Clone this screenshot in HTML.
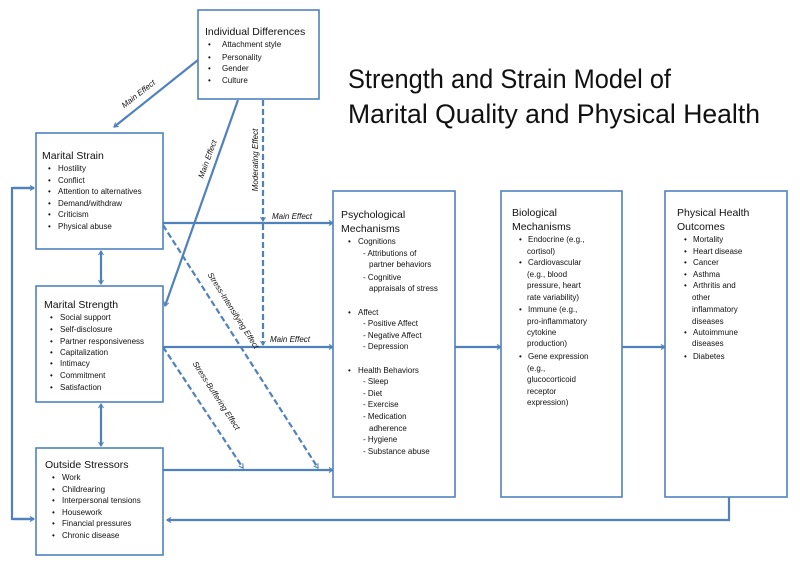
<!DOCTYPE html>
<html><head><meta charset="utf-8"><style>
html,body{margin:0;padding:0;background:#fff;}
svg{display:block;font-family:"Liberation Sans",sans-serif;}
.h{font-size:10.5px;fill:#111;}
.t{font-size:8px;fill:#111;}
.l{font-size:8px;fill:#111;font-style:italic;}
.box{fill:#fff;stroke:#4f81bd;stroke-width:1.6;}
.ln{stroke:#4f81bd;stroke-width:2.2;fill:none;}
.ds{stroke:#4f81bd;stroke-width:2.2;fill:none;stroke-dasharray:6,3;}
</style></head><body>
<svg width="800" height="569" viewBox="0 0 800 569">
<defs>
<marker id="a" viewBox="0 0 10 10" refX="9" refY="5" markerWidth="5" markerHeight="5" orient="auto-start-reverse" markerUnits="userSpaceOnUse" style="overflow:visible">
<path d="M1,0 L9,5 L1,10" fill="none" stroke="#4f81bd" stroke-width="2.2"/>
</marker>
</defs>
<rect width="800" height="569" fill="#fff"/>

<!-- title -->
<text x="348" y="88" font-size="26.5" fill="#111" textLength="323" lengthAdjust="spacingAndGlyphs">Strength and Strain Model of</text>
<text x="348" y="123" font-size="26.5" fill="#111" textLength="412" lengthAdjust="spacingAndGlyphs">Marital Quality and Physical Health</text>

<!-- connectors -->
<line class="ln" x1="198" y1="60" x2="114" y2="127" marker-end="url(#a)"/>
<line class="ln" x1="238" y1="100" x2="165" y2="306" marker-end="url(#a)"/>
<line class="ds" x1="263" y1="100" x2="263" y2="221" marker-end="url(#a)"/>
<line class="ds" x1="263" y1="224" x2="263" y2="345" marker-end="url(#a)"/>
<line class="ln" x1="163" y1="223" x2="333" y2="223" marker-end="url(#a)"/>
<line class="ln" x1="163" y1="347" x2="333" y2="347" marker-end="url(#a)"/>
<line class="ln" x1="163" y1="470" x2="333" y2="470" marker-end="url(#a)"/>
<line class="ds" x1="163" y1="225" x2="318" y2="468" marker-end="url(#a)"/>
<line class="ds" x1="163" y1="347" x2="243" y2="468" marker-end="url(#a)"/>
<line class="ln" x1="101" y1="251" x2="101" y2="284" marker-start="url(#a)" marker-end="url(#a)"/>
<line class="ln" x1="101" y1="404" x2="101" y2="446" marker-start="url(#a)" marker-end="url(#a)"/>
<polyline class="ln" points="34,188 12,188 12,519 34,519"/>
<line class="ln" x1="14" y1="188" x2="34" y2="188" marker-end="url(#a)"/>
<line class="ln" x1="14" y1="519" x2="34" y2="519" marker-end="url(#a)"/>
<polyline class="ln" points="729,497 729,520 167,520" marker-end="url(#a)"/>
<line class="ln" x1="455" y1="347" x2="501" y2="347" marker-end="url(#a)"/>
<line class="ln" x1="622" y1="347" x2="665" y2="347" marker-end="url(#a)"/>

<!-- connector labels -->
<text class="l" transform="translate(140,96) rotate(-38)" text-anchor="middle">Main Effect</text>
<text class="l" transform="translate(210,160) rotate(-70)" text-anchor="middle">Main Effect</text>
<text class="l" transform="translate(258,160) rotate(-90)" text-anchor="middle">Moderating Effect</text>
<text class="l" x="272" y="219">Main Effect</text>
<text class="l" x="270" y="342">Main Effect</text>
<text class="l" transform="translate(231,312) rotate(57.7)" text-anchor="middle">Stress-Intensifying Effect</text>
<text class="l" transform="translate(214,397) rotate(57)" text-anchor="middle">Stress-Buffering Effect</text>

<!-- boxes -->
<rect class="box" x="198" y="10" width="121" height="89"/>
<rect class="box" x="36" y="133" width="127" height="116"/>
<rect class="box" x="36" y="286" width="127" height="116"/>
<rect class="box" x="36" y="448" width="127" height="107"/>
<rect class="box" x="333" y="191" width="122" height="306"/>
<rect class="box" x="501" y="191" width="121" height="306"/>
<rect class="box" x="665" y="191" width="122" height="306"/>

<!-- Individual Differences -->
<text class="h" x="205" y="35">Individual Differences</text>
<g class="t">
<text x="208" y="47">•</text><text x="222" y="47">Attachment style</text>
<text x="208" y="60">•</text><text x="222" y="60">Personality</text>
<text x="208" y="71">•</text><text x="222" y="71">Gender</text>
<text x="208" y="83">•</text><text x="222" y="83">Culture</text>
</g>

<!-- Marital Strain -->
<text class="h" x="42" y="159">Marital Strain</text>
<g class="t">
<text x="48" y="171">•</text><text x="58" y="171">Hostility</text>
<text x="48" y="183">•</text><text x="58" y="183">Conflict</text>
<text x="48" y="194">•</text><text x="58" y="194">Attention to alternatives</text>
<text x="48" y="206">•</text><text x="58" y="206">Demand/withdraw</text>
<text x="48" y="217">•</text><text x="58" y="217">Criticism</text>
<text x="48" y="229">•</text><text x="58" y="229">Physical abuse</text>
</g>

<!-- Marital Strength -->
<text class="h" x="44" y="308">Marital Strength</text>
<g class="t">
<text x="50" y="320">•</text><text x="60" y="320">Social support</text>
<text x="50" y="332">•</text><text x="60" y="332">Self-disclosure</text>
<text x="50" y="344">•</text><text x="60" y="344">Partner responsiveness</text>
<text x="50" y="355">•</text><text x="60" y="355">Capitalization</text>
<text x="50" y="366">•</text><text x="60" y="366">Intimacy</text>
<text x="50" y="378">•</text><text x="60" y="378">Commitment</text>
<text x="50" y="390">•</text><text x="60" y="390">Satisfaction</text>
</g>

<!-- Outside Stressors -->
<text class="h" x="45" y="468">Outside Stressors</text>
<g class="t">
<text x="52" y="480">•</text><text x="62" y="480">Work</text>
<text x="52" y="492">•</text><text x="62" y="492">Childrearing</text>
<text x="52" y="503">•</text><text x="62" y="503">Interpersonal tensions</text>
<text x="52" y="515">•</text><text x="62" y="515">Housework</text>
<text x="52" y="526">•</text><text x="62" y="526">Financial pressures</text>
<text x="52" y="538">•</text><text x="62" y="538">Chronic disease</text>
</g>

<!-- Psychological -->
<text class="h" x="341" y="218">Psychological</text>
<text class="h" x="341" y="232">Mechanisms</text>
<g class="t">
<text x="348" y="244">•</text><text x="358" y="244">Cognitions</text>
<text x="363" y="256">- Attributions of</text>
<text x="369" y="267">partner behaviors</text>
<text x="363" y="280">- Cognitive</text>
<text x="369" y="291">appraisals of stress</text>
<text x="348" y="315">•</text><text x="358" y="315">Affect</text>
<text x="363" y="326">- Positive Affect</text>
<text x="363" y="338">- Negative Affect</text>
<text x="363" y="349">- Depression</text>
<text x="348" y="373">•</text><text x="358" y="373">Health Behaviors</text>
<text x="363" y="384">- Sleep</text>
<text x="363" y="396">- Diet</text>
<text x="363" y="407">- Exercise</text>
<text x="363" y="419">- Medication</text>
<text x="369" y="431">adherence</text>
<text x="363" y="442">- Hygiene</text>
<text x="363" y="454">- Substance abuse</text>
</g>

<!-- Biological -->
<text class="h" x="512" y="216">Biological</text>
<text class="h" x="512" y="230">Mechanisms</text>
<g class="t">
<text x="519" y="242">•</text><text x="528" y="242">Endocrine (e.g.,</text>
<text x="527" y="254">cortisol)</text>
<text x="519" y="265">•</text><text x="528" y="265">Cardiovascular</text>
<text x="527" y="277">(e.g., blood</text>
<text x="527" y="288">pressure, heart</text>
<text x="527" y="300">rate variability)</text>
<text x="519" y="312">•</text><text x="528" y="312">Immune (e.g.,</text>
<text x="527" y="324">pro-inflammatory</text>
<text x="527" y="335">cytokine</text>
<text x="527" y="346">production)</text>
<text x="519" y="359">•</text><text x="528" y="359">Gene expression</text>
<text x="527" y="371">(e.g.,</text>
<text x="527" y="382">glucocorticoid</text>
<text x="527" y="394">receptor</text>
<text x="527" y="405">expression)</text>
</g>

<!-- Physical Health -->
<text class="h" x="677" y="216">Physical Health</text>
<text class="h" x="677" y="230">Outcomes</text>
<g class="t">
<text x="684" y="242">•</text><text x="693" y="242">Mortality</text>
<text x="684" y="254">•</text><text x="693" y="254">Heart disease</text>
<text x="684" y="265">•</text><text x="693" y="265">Cancer</text>
<text x="684" y="277">•</text><text x="693" y="277">Asthma</text>
<text x="684" y="288">•</text><text x="693" y="288">Arthritis and</text>
<text x="692" y="300">other</text>
<text x="692" y="312">inflammatory</text>
<text x="692" y="324">diseases</text>
<text x="684" y="335">•</text><text x="693" y="335">Autoimmune</text>
<text x="692" y="346">diseases</text>
<text x="684" y="359">•</text><text x="693" y="359">Diabetes</text>
</g>
</svg>
</body></html>
